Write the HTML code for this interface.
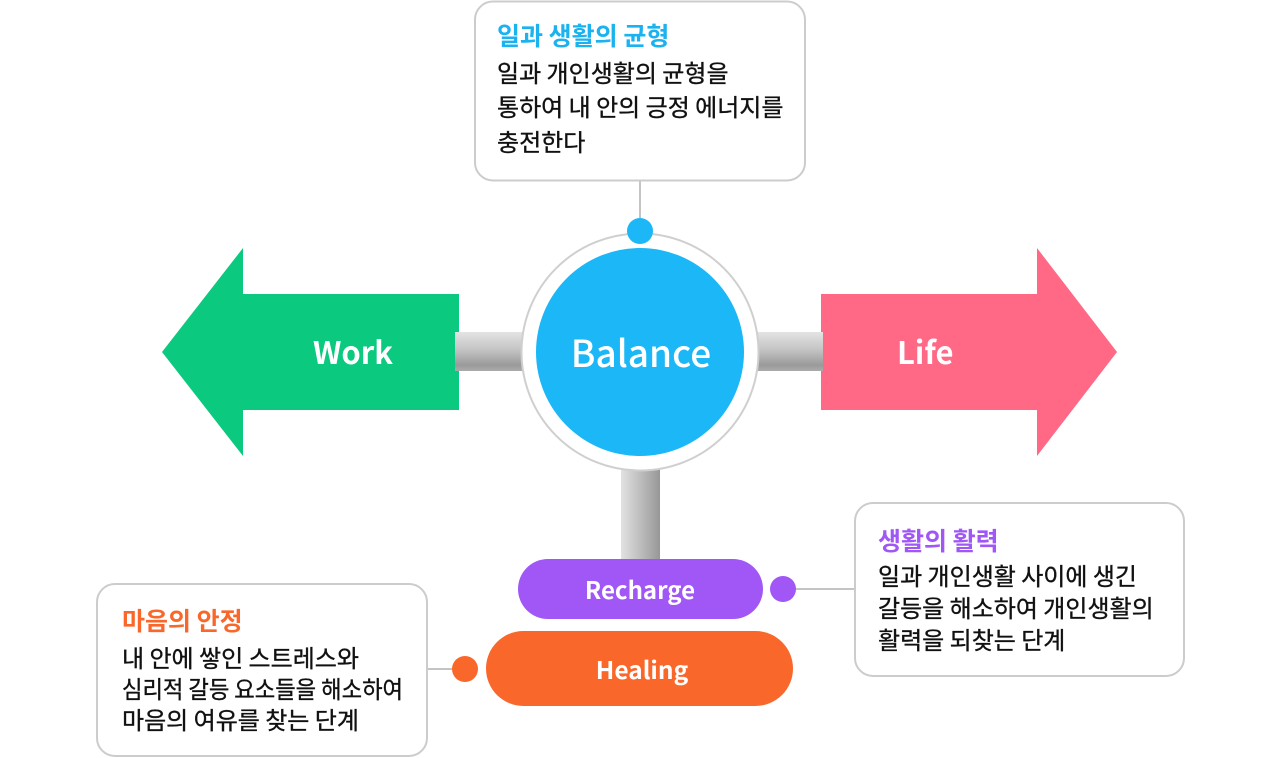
<!DOCTYPE html>
<html><head><meta charset="utf-8">
<style>
html,body{margin:0;padding:0;background:#fff;}
svg{display:block;}
text{font-family:"Noto Sans CJK KR","Liberation Sans",sans-serif;}
.b{font-size:24px;fill:#111;stroke:#111;stroke-width:0.35px;}
.t{font-size:25px;font-weight:700;}
</style></head>
<body>
<svg width="1280" height="758" viewBox="0 0 1280 758" xmlns="http://www.w3.org/2000/svg">
<defs>
<linearGradient id="hbar" x1="0" y1="0" x2="0" y2="1">
<stop offset="0" stop-color="#e4e4e4"/>
<stop offset="0.45" stop-color="#c4c4c4"/>
<stop offset="0.85" stop-color="#9a9a9a"/>
<stop offset="1" stop-color="#ababab"/>
</linearGradient>
<linearGradient id="vbar" x1="0" y1="0" x2="1" y2="0">
<stop offset="0" stop-color="#e2e2e2"/>
<stop offset="0.5" stop-color="#bdbdbd"/>
<stop offset="1" stop-color="#979797"/>
</linearGradient>
</defs>

<!-- connector lines -->
<line x1="640" y1="181" x2="640" y2="222" stroke="#c4c4c4" stroke-width="2"/>
<line x1="790" y1="589" x2="856" y2="589" stroke="#c4c4c4" stroke-width="2"/>
<line x1="426" y1="669" x2="460" y2="669" stroke="#c4c4c4" stroke-width="2"/>

<!-- arrows -->
<polygon points="162,352 243,248 243,294 459,294 459,410 243,410 243,456" fill="#0bc97f"/>
<polygon points="1117,352 1037,248 1037,294 821,294 821,410 1037,410 1037,456" fill="#ff6985"/>

<!-- bars -->
<rect x="455" y="332" width="72" height="39" fill="url(#hbar)"/>
<rect x="753" y="332" width="70" height="39" fill="url(#hbar)"/>
<rect x="621" y="462" width="39" height="100" fill="url(#vbar)"/>

<!-- center circle -->
<circle cx="640" cy="352" r="118.5" fill="#fff" stroke="#cfcfcf" stroke-width="2"/>
<circle cx="640" cy="352" r="104" fill="#1bb7f6"/>
<circle cx="640" cy="231" r="13" fill="#1bb7f6"/>

<text x="641" y="367" font-size="37" font-weight="500" fill="#fff" text-anchor="middle">Balance</text>
<text x="313" y="364" font-size="31" font-weight="700" fill="#fff">Work</text>
<text x="897" y="364" font-size="31" font-weight="700" fill="#fff">Life</text>

<!-- pills -->
<rect x="518" y="559" width="245" height="60" rx="30" fill="#a057f6"/>
<text x="640" y="599" font-size="24" font-weight="700" fill="#fff" text-anchor="middle">Recharge</text>
<circle cx="783" cy="589" r="13" fill="#a057f6"/>

<rect x="486" y="631" width="307" height="75" rx="37.5" fill="#f9682a"/>
<text x="642" y="679" font-size="24.5" font-weight="700" fill="#fff" text-anchor="middle">Healing</text>
<circle cx="465" cy="669" r="13" fill="#f9682a"/>

<!-- top box -->
<rect x="475" y="1.5" width="330" height="179" rx="18" fill="#fff" stroke="#cccccc" stroke-width="2"/>
<text class="t" x="497" y="45" fill="#1bb2f0">일과 생활의 균형</text>
<text class="b" x="497" y="82">일과 개인생활의 균형을</text>
<text class="b" x="497" y="116">통하여 내 안의 긍정 에너지를</text>
<text class="b" x="497" y="151">충전한다</text>

<!-- right box -->
<rect x="855" y="503" width="329" height="173" rx="18" fill="#fff" stroke="#cccccc" stroke-width="2"/>
<text class="t" x="878" y="550" fill="#a057f6">생활의 활력</text>
<text class="b" x="878" y="585">일과 개인생활 사이에 생긴</text>
<text class="b" x="878" y="617">갈등을 해소하여 개인생활의</text>
<text class="b" x="878" y="649">활력을 되찾는 단계</text>

<!-- left box -->
<rect x="97" y="584" width="330" height="172" rx="18" fill="#fff" stroke="#cccccc" stroke-width="2"/>
<text class="t" x="122" y="630" fill="#f9682a">마음의 안정</text>
<text class="b" x="122" y="667">내 안에 쌓인 스트레스와</text>
<text class="b" x="122" y="698" textLength="281" lengthAdjust="spacingAndGlyphs">심리적 갈등 요소들을 해소하여</text>
<text class="b" x="122" y="729">마음의 여유를 찾는 단계</text>
</svg>
</body></html>
